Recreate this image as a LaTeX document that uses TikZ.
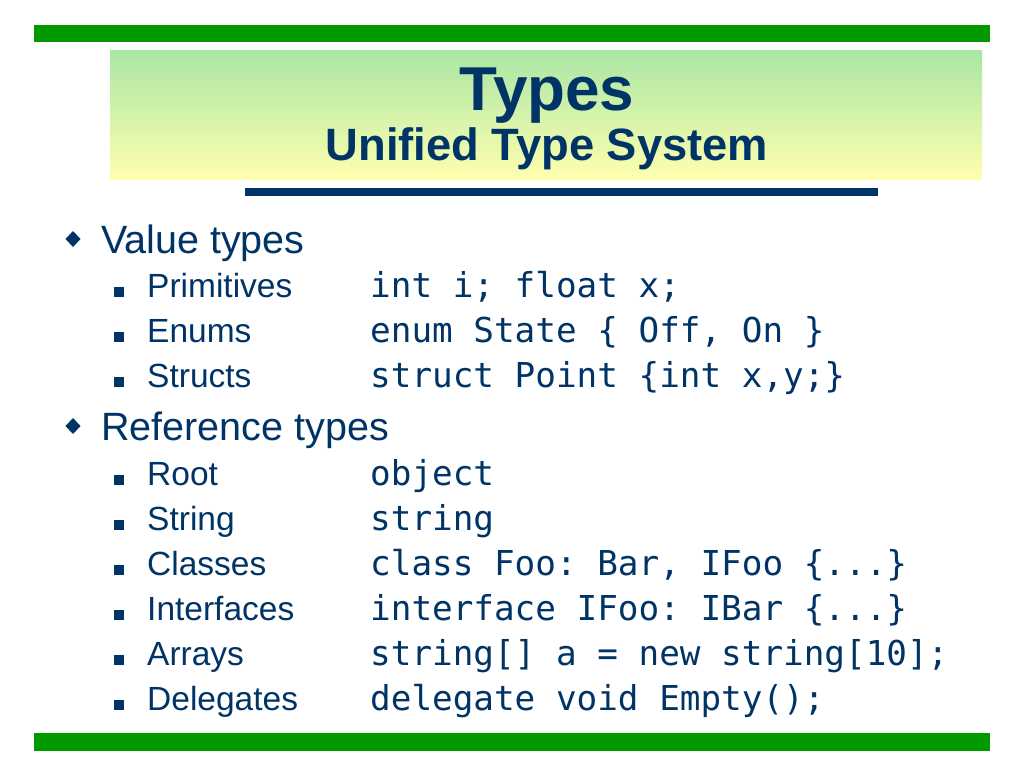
\documentclass[tikz,border=0pt]{standalone}
\usepackage{fontspec}
\setmainfont{Liberation Sans}
\setmonofont{DejaVu Sans Mono}
\definecolor{navy}{RGB}{0,51,102}
\definecolor{bargreen}{RGB}{0,153,0}
\definecolor{lightgreen}{RGB}{170,230,165}
\definecolor{lightyellow}{RGB}{255,255,175}
\tikzset{
	item/.style={anchor=base west, inner sep=0pt, text=navy, font=\fontsize{39.5}{44}\selectfont},
	subitem/.style={anchor=base west, inner sep=0pt, text=navy, font=\fontsize{33.5}{38}\selectfont},
	code/.style={anchor=base west, inner sep=0pt, text=navy, font=\ttfamily\fontsize{34.3}{38}\selectfont},
}
\begin{document}
\begin{tikzpicture}[x=1pt,y=-1pt]
	\useasboundingbox (0,0) rectangle (1024,768);
	\fill[bargreen] (34,25) rectangle (990,42);							% Barra superior
	\shade[top color=lightgreen, bottom color=lightyellow] (110,51) rectangle (982,179);	% Faixa do titulo
	\fill[navy] (245,188) rectangle (878,196);							% Barra azul
	\fill[bargreen] (34,733) rectangle (990,751);						% Barra inferior

	% Titulo
	\node[anchor=base, inner sep=0pt, text=navy, font=\bfseries\fontsize{62}{68}\selectfont] (title) at (547,110) {Types};
	\node[anchor=base, inner sep=0pt, text=navy, font=\bfseries\fontsize{45.3}{52}\selectfont] (subtitle) at (547,160) {Unified Type System};

	% Itens
	\node[item] (i1) at (101,253) {Value types};
	\node[item] (i2) at (101,440) {Reference types};
	\foreach \y in {253,440}
		\fill[navy] (73,\y-22) -- (80.5,\y-14) -- (73,\y-6) -- (65.5,\y-14) -- cycle;

	% Subitens
	\foreach \y/\name/\txt/\src in {
		297/s1/Primitives/{int i; float x;},
		342/s2/Enums/{enum State \{ Off, On \}},
		387/s3/Structs/{struct Point \{int x,y;\}},
		485/s4/Root/{object},
		530/s5/String/{string},
		575/s6/Classes/{class Foo: Bar, IFoo \{...\}},
		620/s7/Interfaces/{interface IFoo: IBar \{...\}},
		665/s8/Arrays/{string[] a = new string[10];},
		710/s9/Delegates/{delegate void Empty();}}
	{
		\fill[navy] (114,\y-10) rectangle (124,\y);
		\node[subitem] (\name) at (147,\y) {\txt};
		\node[code] (\name c) at (370,\y) {\src};
	}
\end{tikzpicture}
\end{document}
